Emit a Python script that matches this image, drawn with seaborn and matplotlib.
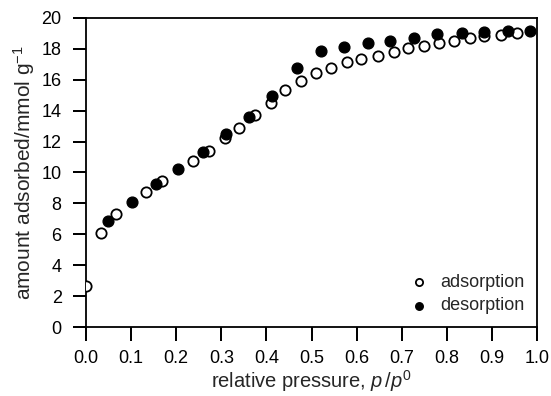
import matplotlib
matplotlib.use("Agg")
import matplotlib.pyplot as plt
import seaborn as sns
import pandas as pd

ads_x = [0.0, 0.033, 0.066, 0.133, 0.169, 0.237, 0.273, 0.308, 0.339, 0.375, 0.409, 0.440, 0.477,
         0.509, 0.543, 0.579, 0.610, 0.647, 0.682, 0.713, 0.749, 0.782, 0.815, 0.852, 0.883, 0.919, 0.955]
ads_y = [2.68, 6.06, 7.29, 8.76, 9.45, 10.74, 11.41, 12.21, 12.9, 13.72, 14.48, 15.3, 15.92,
         16.4, 16.74, 17.13, 17.33, 17.56, 17.78, 18.04, 18.19, 18.36, 18.47, 18.69, 18.83, 18.9, 19.05]
des_x = [0.049, 0.101, 0.155, 0.205, 0.259, 0.310, 0.362, 0.413, 0.467, 0.520, 0.571, 0.624, 0.673,
         0.727, 0.779, 0.833, 0.883, 0.935, 0.985]
des_y = [6.86, 8.11, 9.24, 10.2, 11.3, 12.47, 13.6, 14.97, 16.74, 17.88, 18.14, 18.4, 18.51,
         18.68, 18.94, 19.0, 19.07, 19.17, 19.17]
x_ticks = [0.0, 0.1, 0.2, 0.3, 0.4, 0.5, 0.6, 0.7, 0.8, 0.9, 1.0]
y_ticks = [0, 2, 4, 6, 8, 10, 12, 14, 16, 18, 20]

sns.set_style("ticks")
plt.rcParams['font.family'] = ['Liberation Sans', 'DejaVu Sans']
plt.rcParams['mathtext.fontset'] = 'custom'
plt.rcParams['mathtext.rm'] = 'Liberation Sans'
plt.rcParams['mathtext.it'] = 'Liberation Sans:italic'

ads = pd.DataFrame({"p": ads_x, "n": ads_y})
des = pd.DataFrame({"p": des_x, "n": des_y})

fig = plt.figure(figsize=(5.51, 3.96), dpi=100)
ax = fig.add_axes([0.156, 0.174, 0.819, 0.781])

sns.scatterplot(data=ads, x="p", y="n", ax=ax, s=55, color="white", edgecolor="black",
                linewidth=1.3, label="adsorption", zorder=3)
sns.scatterplot(data=des, x="p", y="n", ax=ax, s=60, color="black", edgecolor="black",
                linewidth=1.0, label="desorption", zorder=4)

ax.set_xlim(0, 1.0)
ax.set_ylim(0, 20)
ax.set_xticks(x_ticks)
ax.set_xticklabels([f"{v:.1f}" for v in x_ticks])
ax.set_yticks(y_ticks)
ax.set_yticklabels([str(v) for v in y_ticks])
ax.tick_params(axis="x", direction="out", length=10, width=1.3, labelsize=13, colors="black", pad=6.5)
ax.tick_params(axis="y", direction="out", length=9.5, width=1.3, labelsize=13, colors="black", pad=8)
# reinforce the outward tick marks along the axes
ax.vlines(x_ticks, -0.045, 0, transform=ax.get_xaxis_transform(), colors="black",
          linewidth=1.3, clip_on=False, zorder=5)
ax.hlines(y_ticks, -0.029, 0, transform=ax.get_yaxis_transform(), colors="black",
          linewidth=1.3, clip_on=False, zorder=5)
for sp in ax.spines.values():
    sp.set_linewidth(1.3)
    sp.set_color("black")
    sp.set_visible(True)

ax.set_xlabel(r"relative pressure, $\it{p}\,/\it{p}^{0}$", fontsize=14.5, labelpad=1)
ax.set_ylabel(r"amount adsorbed/mmol g$^{-1}$", fontsize=15, labelpad=3)

leg = ax.legend(loc="lower right", frameon=False, fontsize=13, handletextpad=0.2,
                markerscale=0.7, borderaxespad=0.3, labelspacing=0.35, borderpad=0.4)

fig.savefig("out.png", dpi=100)
